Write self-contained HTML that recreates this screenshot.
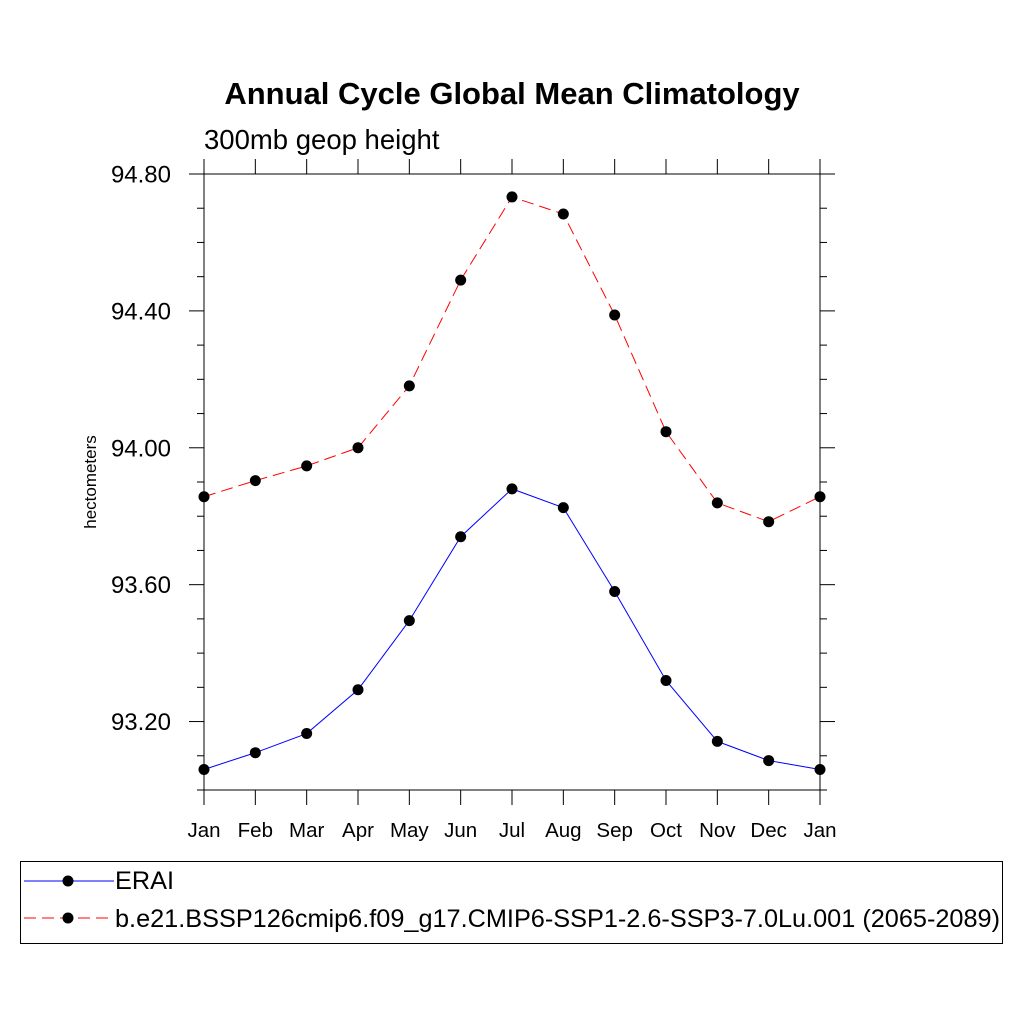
<!DOCTYPE html>
<html><head><meta charset="utf-8"><style>
body{margin:0;background:#fff}
svg text{font-family:"Liberation Sans",Helvetica,sans-serif;fill:#000}
</style></head><body>
<svg id="c" width="1024" height="1024" viewBox="0 0 1024 1024">
<text x="512" y="104" text-anchor="middle" font-size="31" font-weight="bold">Annual Cycle Global Mean Climatology</text>
<text x="204" y="149" font-size="27.5">300mb geop height</text>
<text transform="translate(96,482) rotate(-90)" text-anchor="middle" font-size="17">hectometers</text>
<g id="axes"></g>
<g id="series"></g>
<rect x="20.5" y="861.5" width="982" height="82" fill="none" stroke="#000" stroke-width="1"/>
<g>
<line x1="24" y1="881" x2="114" y2="881" stroke="#00f" stroke-width="1"/>
<circle cx="68" cy="881" r="5.5" fill="#000"/>
<text x="115" y="889" font-size="25" textLength="59" lengthAdjust="spacingAndGlyphs">ERAI</text></g>
<g>
<line x1="24" y1="918" x2="114" y2="918" stroke="#f00" stroke-width="1" stroke-dasharray="12,6"/>
<circle cx="68" cy="918" r="5.5" fill="#000"/>
<text x="115" y="927" font-size="25" textLength="885" lengthAdjust="spacingAndGlyphs">b.e21.BSSP126cmip6.f09_g17.CMIP6-SSP1-2.6-SSP3-7.0Lu.001 (2065-2089)</text></g>
</svg>
<script>
const months=["Jan","Feb","Mar","Apr","May","Jun","Jul","Aug","Sep","Oct","Nov","Dec","Jan"];
const erai=[93.06,93.109,93.165,93.293,93.495,93.74,93.88,93.825,93.58,93.32,93.142,93.086,93.06];
const ssp=[93.857,93.904,93.947,94.0,94.181,94.49,94.733,94.683,94.388,94.047,93.839,93.784,93.857];
const yTicks=[93.2,93.6,94.0,94.4,94.8];
const yTickLabels=["93.20","93.60","94.00","94.40","94.80"];
const X0=204,X1=820,Y0=790,Y1=174,YMIN=93.0,YMAX=94.8;
const NS="http://www.w3.org/2000/svg";
function xs(i){return X0+(X1-X0)*i/(months.length-1);}
function ys(v){return Y0-(v-YMIN)/(YMAX-YMIN)*(Y0-Y1);}
function mk(t,a,p){const e=document.createElementNS(NS,t);for(const k in a)e.setAttribute(k,a[k]);p.appendChild(e);return e;}
const ax=document.getElementById('axes');
const fr=mk('rect',{x:X0,y:Y1,width:X1-X0,height:Y0-Y1,fill:'none',stroke:'#000','stroke-width':1},ax);


months.forEach((m,i)=>{const x=xs(i);
mk('line',{x1:x,y1:Y0,x2:x,y2:Y0+15,stroke:'#000'},ax);
mk('line',{x1:x,y1:Y1,x2:x,y2:Y1-15,stroke:'#000'},ax);
const t=mk('text',{x:x,y:Y0+47,'text-anchor':'middle','font-size':20.5},ax);t.textContent=m;

});
for(let k=0;k<=18;k++){const v=YMIN+k*0.1;const y=ys(v);const major=(k%4==2);const L=major?15:7;
mk('line',{x1:X0-L,y1:y,x2:X0,y2:y,stroke:'#000'},ax);
mk('line',{x1:X1,y1:y,x2:X1+L,y2:y,stroke:'#000'},ax);}
yTicks.forEach((v,i)=>{const t=mk('text',{x:X0-33,y:ys(v)+8.5,'text-anchor':'end','font-size':24},ax);t.textContent=yTickLabels[i];

});
const sg=document.getElementById('series');
function draw(d,col,dash,name){const g=mk('g',{},sg);


mk('polyline',{points:d.map((v,i)=>xs(i)+','+ys(v)).join(' '),fill:'none',stroke:col,'stroke-width':1,'stroke-dasharray':dash},g);
d.forEach((v,i)=>{const c=mk('circle',{cx:xs(i),cy:ys(v),r:5.5,fill:'#000'},g);

});}
draw(erai,'#00f','none','erai-series');
draw(ssp,'#f00','12,6','ssp-series');
</script>
</body></html>
